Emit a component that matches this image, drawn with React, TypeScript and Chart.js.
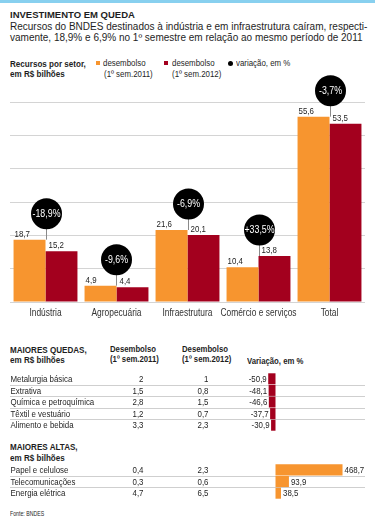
import React, { useEffect, useRef } from "react";
import { Chart, registerables } from "chart.js";
Chart.register(...registerables);

// ---- Data ----
const categories = ["Indústria", "Agropecuária", "Infraestrutura", "Comércio e serviços", "Total"];
const desembolso2011 = [18.7, 4.9, 21.6, 10.4, 55.6];
const desembolso2012 = [15.2, 4.4, 20.1, 13.8, 53.5];
const variacao = [-18.9, -9.6, -6.9, 33.5, -3.7];
const yTicks = [0, 10, 20, 30, 40, 50, 60];

const quedasSetores = ["Metalurgia básica", "Extrativa", "Química e petroquímica", "Têxtil e vestuário", "Alimento e bebida"];
const quedas2011 = [2, 1.5, 2.8, 1.2, 3.3];
const quedas2012 = [1, 0.8, 1.5, 0.7, 2.3];
const quedasVar = [-50.9, -48.1, -46.6, -37.7, -30.9];

const altasSetores = ["Papel e celulose", "Telecomunicações", "Energia elétrica"];
const altas2011 = [0.4, 0.3, 4.7];
const altas2012 = [2.3, 0.6, 6.5];
const altasVar = [468.7, 93.9, 38.5];

// ---- Styles ----
const ORANGE = "#F7952F";
const RED = "#A3001E";
const TEXT = "#1e1e1e";
const FONT = '"Liberation Sans", Arial, sans-serif';
const SX = 0.83; // horizontal condensing of the narrow texts

const fmt = (v: number) => String(v).replace(".", ",");
const fmtPct = (v: number) => (v > 0 ? "+" : "") + fmt(v) + "%";

function condText(ctx: CanvasRenderingContext2D, text: string, x: number, y: number, align: CanvasTextAlign, sx = SX) {
  ctx.save();
  ctx.translate(x, y);
  ctx.scale(sx, 1);
  ctx.textAlign = align;
  ctx.fillText(text, 0, 0);
  ctx.restore();
}

function MainChart() {
  const ref = useRef<HTMLCanvasElement>(null);
  useEffect(() => {
    const labelsPlugin = {
      id: "labelsBubbles",
      afterDatasetsDraw(chart: any) {
        const ctx = chart.ctx as CanvasRenderingContext2D;
        const m0 = chart.getDatasetMeta(0);
        const m1 = chart.getDatasetMeta(1);
        const xs = chart.scales.x;
        const bottom = chart.chartArea.bottom;
        ctx.save();
        categories.forEach((cat, i) => {
          const b0 = m0.data[i];
          const b1 = m1.data[i];
          // category label
          ctx.font = `10px ${FONT}`;
          ctx.fillStyle = "#333";
          ctx.textBaseline = "middle";
          condText(ctx, cat, xs.getPixelForValue(i), bottom + 11, "center", 0.84);
          // value labels
          ctx.font = `9.5px ${FONT}`;
          ctx.fillStyle = TEXT;
          ctx.textBaseline = "alphabetic";
          condText(ctx, fmt(desembolso2011[i]), b0.x - b0.width / 2 + 1, b0.y - 3, "left");
          condText(ctx, fmt(desembolso2012[i]), b1.x - b1.width / 2 + 3, b1.y - 3, "left");
          // bubble
          const cx = Math.round(b0.x + b0.width / 2) + 0.5;
          const top = Math.min(b0.y, b1.y);
          const cy = top - 26;
          ctx.strokeStyle = "#8a8a8a";
          ctx.lineWidth = 1;
          ctx.beginPath();
          ctx.moveTo(cx, cy);
          ctx.lineTo(cx, top);
          ctx.stroke();
          ctx.fillStyle = "#000";
          ctx.beginPath();
          ctx.arc(cx, cy, 15.5, 0, Math.PI * 2);
          ctx.fill();
          ctx.fillStyle = "#fff";
          ctx.font = `10.5px ${FONT}`;
          ctx.textBaseline = "middle";
          condText(ctx, fmtPct(variacao[i]), cx, cy + 0.5, "center", 0.84);
        });
        ctx.restore();
      },
    };
    const chart = new Chart(ref.current as HTMLCanvasElement, {
      type: "bar",
      data: {
        labels: categories,
        datasets: [
          { label: "desembolso (1º sem.2011)", data: desembolso2011, backgroundColor: ORANGE, categoryPercentage: 0.9, barPercentage: 1 },
          { label: "desembolso (1º sem.2012)", data: desembolso2012, backgroundColor: RED, categoryPercentage: 0.9, barPercentage: 1 },
        ],
      },
      options: {
        responsive: false,
        animation: false,
        layout: { padding: { left: 10, right: 10, top: 30, bottom: 0 } },
        plugins: { legend: { display: false }, tooltip: { enabled: false } },
        scales: {
          x: {
            grid: { display: false, drawTicks: false },
            border: { display: false },
            ticks: { display: false },
            afterFit: (s: any) => { s.height = 24; },
          },
          y: {
            min: 0,
            max: 60,
            afterBuildTicks: (s: any) => { s.ticks = yTicks.map((v) => ({ value: v })); },
            grid: { color: "#d4d4d4", drawTicks: false },
            border: { display: false },
            ticks: { display: false },
            afterFit: (s: any) => { s.width = 0; },
          },
        },
      } as any,
      plugins: [labelsPlugin],
    });
    return () => chart.destroy();
  }, []);
  return <canvas ref={ref} width={375} height={254} style={{ position: "absolute", left: 0, top: 72 }} />;
}

const PX_PER_UNIT = 0.143;
const ZERO_X = 275.5;
const AREA_L = 10;
const AREA_R = 365;
const COL1_RIGHT = 143.5;
const COL2_RIGHT = 208.5;

function TableChart(props: { names: string[]; c1: number[]; c2: number[]; vals: number[]; color: string; top: number; height: number }) {
  const { names, c1, c2, vals, color, top, height } = props;
  const ref = useRef<HTMLCanvasElement>(null);
  useEffect(() => {
    const plugin = {
      id: "tableText",
      beforeDatasetsDraw(chart: any) {
        const { ctx, chartArea } = chart;
        const ys = chart.scales.y;
        ctx.save();
        ctx.strokeStyle = "#cfcfcf";
        ctx.lineWidth = 1;
        for (let i = 0; i < names.length - 1; i++) {
          const y = Math.round((ys.getPixelForValue(i) + ys.getPixelForValue(i + 1)) / 2) + 0.5;
          ctx.beginPath();
          ctx.moveTo(chartArea.left, y);
          ctx.lineTo(chartArea.right, y);
          ctx.stroke();
        }
        ctx.restore();
      },
      afterDatasetsDraw(chart: any) {
        const { ctx, chartArea } = chart;
        const ys = chart.scales.y;
        const meta = chart.getDatasetMeta(0);
        ctx.save();
        ctx.font = `9.5px ${FONT}`;
        ctx.fillStyle = TEXT;
        ctx.textBaseline = "middle";
        names.forEach((n, i) => {
          const y = ys.getPixelForValue(i) + 0.5;
          condText(ctx, n, chartArea.left + 0.5, y, "left");
          condText(ctx, fmt(c1[i]), COL1_RIGHT, y, "right");
          condText(ctx, fmt(c2[i]), COL2_RIGHT, y, "right");
          const bar = meta.data[i];
          if (vals[i] < 0) condText(ctx, fmt(vals[i]), bar.x - 1.5, y, "right");
          else condText(ctx, fmt(vals[i]), bar.x + 2, y, "left");
        });
        ctx.restore();
      },
    };
    const chart = new Chart(ref.current as HTMLCanvasElement, {
      type: "bar",
      data: {
        labels: names,
        datasets: [{ data: vals, backgroundColor: color, barPercentage: 0.95, categoryPercentage: 1 }],
      },
      options: {
        indexAxis: "y",
        responsive: false,
        animation: false,
        layout: { padding: { left: AREA_L, right: 375 - AREA_R, top: 0, bottom: 0 } },
        plugins: { legend: { display: false }, tooltip: { enabled: false } },
        scales: {
          x: { display: false, min: -(ZERO_X - AREA_L) / PX_PER_UNIT, max: (AREA_R - ZERO_X) / PX_PER_UNIT },
          y: { display: false },
        },
      } as any,
      plugins: [plugin],
    });
    return () => chart.destroy();
  }, []);
  return <canvas ref={ref} width={375} height={height} style={{ position: "absolute", left: 0, top }} />;
}

function T(p: { x: number; y: number; size: number; bold?: boolean; sx?: number; children: any; color?: string }) {
  return (
    <div
      style={{
        position: "absolute",
        left: p.x,
        top: p.y - p.size / 2,
        fontSize: p.size,
        lineHeight: `${p.size}px`,
        fontFamily: FONT,
        fontWeight: p.bold ? 700 : 400,
        whiteSpace: "nowrap",
        color: p.color ?? TEXT,
        transform: `scaleX(${p.sx ?? SX})`,
        transformOrigin: "left center",
      }}
    >
      {p.children}
    </div>
  );
}

export default function App() {
  return (
    <div style={{ position: "absolute", left: 0, top: 0, width: 375, height: 520, background: "#fff", overflow: "hidden" }}>
      <div style={{ position: "absolute", left: 0, top: 0, width: 375, height: 2.5, background: "#88d0ef" }} />
      <T x={10} y={15} size={9.5} bold sx={1}>INVESTIMENTO EM QUEDA</T>
      <T x={10} y={26.5} size={10} sx={1}>Recursos do BNDES destinados à indústria e em infraestrutura caíram, respecti-</T>
      <T x={10} y={37.5} size={10} sx={1}>vamente, 18,9% e 6,9% no 1º semestre em relação ao mesmo período de 2011</T>

      <T x={10} y={63.5} size={9.5} bold sx={0.85}>Recursos por setor,</T>
      <T x={10} y={74} size={9.5} bold sx={0.85}>em R$ bilhões</T>
      <div style={{ position: "absolute", left: 96, top: 61, width: 4, height: 4, background: ORANGE }} />
      <T x={103} y={63} size={9.5}>desembolso</T>
      <T x={104} y={73.5} size={9.5}>(1º sem.2011)</T>
      <div style={{ position: "absolute", left: 164, top: 61, width: 4, height: 4, background: RED }} />
      <T x={171.5} y={63} size={9.5}>desembolso</T>
      <T x={171.5} y={73.5} size={9.5}>(1º sem.2012)</T>
      <div style={{ position: "absolute", left: 228, top: 60.5, width: 5, height: 5, borderRadius: "50%", background: "#000" }} />
      <T x={236} y={63} size={9.5}>variação, em %</T>

      <MainChart />

      <T x={10} y={350} size={9.5} bold sx={0.85}>MAIORES QUEDAS,</T>
      <T x={10} y={360} size={9.5} bold sx={0.85}>em R$ bilhões</T>
      <T x={110} y={349} size={9} bold sx={0.86}>Desembolso</T>
      <T x={110} y={359} size={9} bold sx={0.86}>(1º sem.2011)</T>
      <T x={182} y={349} size={9} bold sx={0.86}>Desembolso</T>
      <T x={182} y={359} size={9} bold sx={0.86}>(1º sem.2012)</T>
      <T x={247} y={361} size={9} bold sx={0.86}>Variação, em %</T>

      <TableChart names={quedasSetores} c1={quedas2011} c2={quedas2012} vals={quedasVar} color={RED} top={373} height={58} />

      <T x={10} y={447} size={9.5} bold sx={0.85}>MAIORES ALTAS,</T>
      <T x={10} y={458} size={9.5} bold sx={0.85}>em R$ bilhões</T>

      <TableChart names={altasSetores} c1={altas2011} c2={altas2012} vals={altasVar} color={ORANGE} top={464} height={35} />

      <T x={10} y={514} size={6.5} sx={0.8}>Fonte: BNDES</T>
    </div>
  );
}
